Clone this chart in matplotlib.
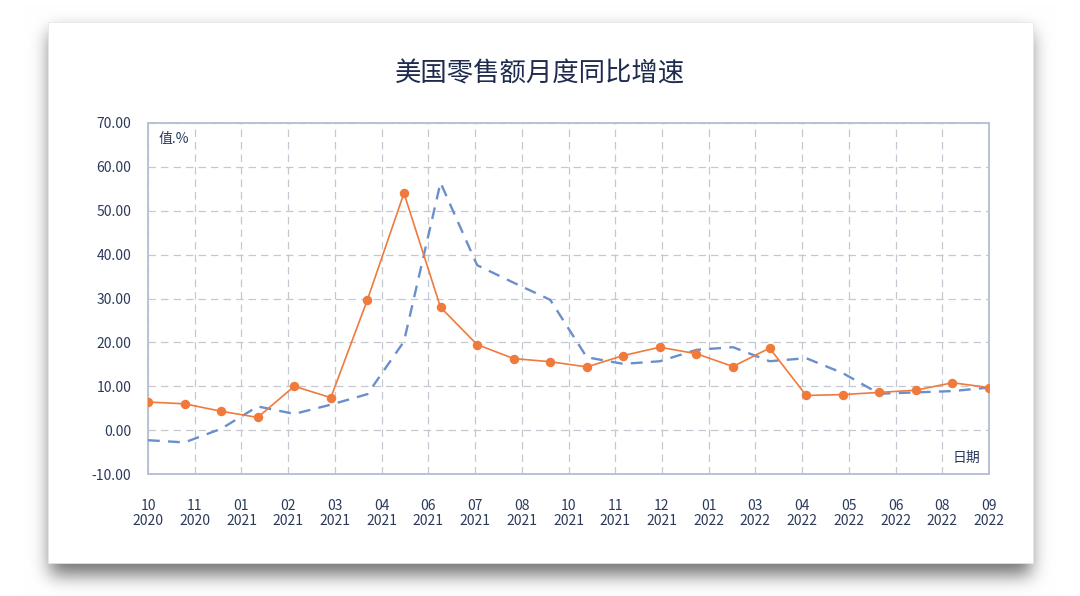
import numpy as np
import matplotlib
matplotlib.use("Agg")
import matplotlib.pyplot as plt
from matplotlib.patches import Rectangle

plt.rcParams['font.family'] = ['Noto Sans CJK SC', 'DejaVu Sans']

# ---- data ----
title = "美国零售额月度同比增速"
months = ["2020-10", "2020-11", "2020-12", "2021-01", "2021-02", "2021-03", "2021-04", "2021-05",
          "2021-06", "2021-07", "2021-08", "2021-09", "2021-10", "2021-11", "2021-12", "2022-01",
          "2022-02", "2022-03", "2022-04", "2022-05", "2022-06", "2022-07", "2022-08", "2022-09"]
orange_vals = [6.4, 6.0, 4.3, 2.9, 10.0, 7.4, 29.7, 54.0, 28.0, 19.5, 16.3, 15.6,
               14.4, 17.0, 18.9, 17.4, 14.5, 18.7, 7.9, 8.1, 8.6, 9.1, 10.8, 9.7]
blue_vals = [-2.3, -2.8, 0.3, 5.4, 3.7, 5.8, 8.2, 20.2, 56.4, 37.6, 33.6, 29.7,
             16.6, 15.1, 15.7, 18.3, 18.9, 15.7, 16.4, 13.0, 8.3, 8.6, 8.9, 9.7]
xtick_labels = ["10\n2020", "11\n2020", "01\n2021", "02\n2021", "03\n2021", "04\n2021", "06\n2021",
                "07\n2021", "08\n2021", "10\n2021", "11\n2021", "12\n2021", "01\n2022", "03\n2022",
                "04\n2022", "05\n2022", "06\n2022", "08\n2022", "09\n2022"]
yticks = [-10, 0, 10, 20, 30, 40, 50, 60, 70]
y_unit = "值.%"
x_unit = "日期"

W, H = 1080, 596
fig = plt.figure(figsize=(W / 100, H / 100), dpi=100)
fig.patch.set_facecolor("white")

# ---- card shadow (blurred) ----
bg = fig.add_axes([0, 0, 1, 1])
bg.set_xlim(0, W)
bg.set_ylim(H, 0)
bg.axis("off")
mask = np.zeros((H, W))
cx0, cx1, cy0, cy1 = 48, 1033, 22, 563
mask[cy0 + 10:cy1 + 12, cx0 + 2:cx1 - 2] = 1.0
k = 9
g = np.exp(-0.5 * (np.arange(-3 * k, 3 * k + 1) / k) ** 2)
g /= g.sum()
blur = np.apply_along_axis(lambda r: np.convolve(r, g, mode="same"), 1, mask)
blur = np.apply_along_axis(lambda c: np.convolve(c, g, mode="same"), 0, blur)
shade = 1 - 0.55 * blur
img = np.dstack([shade, shade, shade])
bg.imshow(img, extent=(0, W, H, 0), zorder=0, interpolation="bilinear")
bg.add_patch(Rectangle((cx0, cy0), cx1 - cx0, cy1 - cy0, facecolor="white",
                       edgecolor="#e6e6e6", lw=0.5, zorder=1))

# ---- main axes ----
L, R, T, B = 148, 989, 123, 474
ax = fig.add_axes([L / W, 1 - B / H, (R - L) / W, (B - T) / H])
ax.set_facecolor("white")

x = np.arange(len(months))
ax.plot(x, blue_vals, color="#6b8fcc", lw=1.7, ls=(0, (5, 3.5)), zorder=3)
ax.plot(x, orange_vals, color="#f07a3c", lw=1.2, marker="o", ms=5.8, zorder=4)

n = len(xtick_labels)
xt = np.linspace(0, len(months) - 1, n)
ax.set_xlim(0, len(months) - 1)
ax.set_xticks(xt)
ax.set_xticklabels(xtick_labels, fontsize=10, color="#2b3a5c", linespacing=1.1)
ax.set_ylim(-10, 70)
ax.set_yticks(yticks)
ax.set_yticklabels([f"{v:.2f}" for v in yticks], fontsize=10, color="#2b3a5c")
ax.tick_params(axis="both", length=0)
ax.tick_params(axis="y", pad=12)
ax.tick_params(axis="x", pad=18)

ax.grid(True, color="#c5c8d0", lw=0.9, ls=(0, (6, 4)))
for s in ax.spines.values():
    s.set_color("#b8c2d6")
    s.set_linewidth(1.4)
ax.set_axisbelow(True)

ax.text(0.012, 0.975, y_unit, transform=ax.transAxes, ha="left", va="top",
        fontsize=10, color="#2b3a5c")
ax.text(0.99, 0.025, x_unit, transform=ax.transAxes, ha="right", va="bottom",
        fontsize=10, color="#2b3a5c")

fig.text(540 / W, 1 - 74 / H, title, ha="center", va="center", fontsize=19,
         color="#1e2b4d", fontweight="medium")

fig.savefig("out.png", dpi=100, facecolor="white")
